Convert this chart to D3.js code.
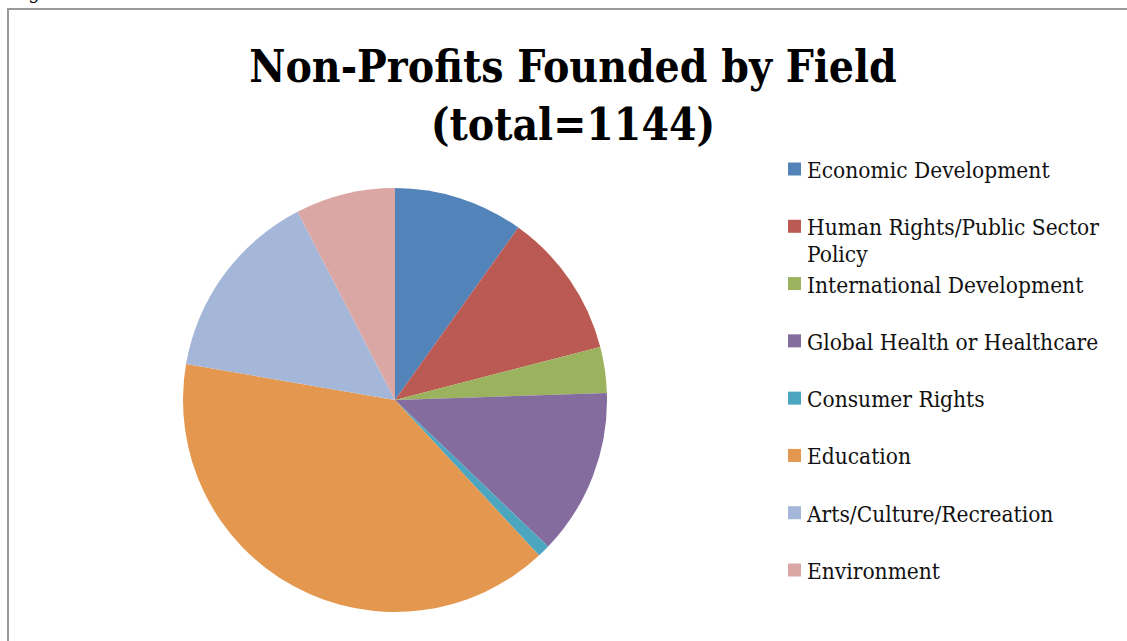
<!DOCTYPE html>
<html>
<head>
<meta charset="utf-8">
<script src="https://cdn.jsdelivr.net/npm/d3@7"></script>
<style>
  body { margin: 0; background: #fff; overflow: hidden; }
  svg { display: block; }
</style>
</head>
<body>
<svg id="chart" width="1127" height="641"></svg>
<script>
// categories and counts (sum = 1144)
const fields = [
  "Economic Development",
  "Human Rights/Public Sector Policy",
  "International Development",
  "Global Health or Healthcare",
  "Consumer Rights",
  "Education",
  "Arts/Culture/Recreation",
  "Environment"
];
const counts = [113, 127, 40, 145, 11, 453, 168, 87];
const sliceColors = ["#5283b9", "#ba5a53", "#9bb25e", "#856c9e", "#4da6bf", "#e4974e", "#a4b7d9", "#dba7a4"];
const titleLines = ["Non-Profits Founded by Field", "(total=1144)"];

const width = 1127, height = 641;
const svg = d3.select("#chart");
const serif = "'DejaVu Serif Condensed', 'DejaVu Serif', serif";

const data = fields.map((f, i) => ({ field: f, count: counts[i] }));

// caption above the frame, cut off by the top edge as in the source
svg.append("text")
  .attr("x", 10).attr("y", -1)
  .attr("font-family", serif)
  .attr("font-size", 20)
  .text("Figure");

// chart frame (runs off the right and bottom edges)
svg.append("rect")
  .attr("x", 8).attr("y", 9)
  .attr("width", width * 2).attr("height", height * 2)
  .attr("fill", "none")
  .attr("stroke", "#9a9a9a")
  .attr("stroke-width", 2);

// title
svg.append("g")
  .selectAll("text")
  .data(titleLines)
  .join("text")
  .attr("x", 573)
  .attr("y", (d, i) => 82 + i * 58)
  .attr("text-anchor", "middle")
  .attr("font-family", serif)
  .attr("font-weight", "bold")
  .attr("font-size", 44)
  .text(d => d);

// pie
const color = d3.scaleOrdinal().domain(fields).range(sliceColors);
const pie = d3.pie().sort(null).value(d => d.count);
const arc = d3.arc().innerRadius(0).outerRadius(212);

svg.append("g")
  .attr("transform", "translate(395,400)")
  .selectAll("path")
  .data(pie(data))
  .join("path")
  .attr("fill", d => color(d.data.field))
  .attr("d", arc);

// legend
const legendY = d3.scalePoint().domain(fields).range([169, 570]);
const legend = svg.append("g")
  .selectAll("g")
  .data(fields)
  .join("g")
  .attr("transform", d => `translate(788,${legendY(d)})`);

legend.append("rect")
  .attr("x", 0).attr("y", -6.5)
  .attr("width", 13).attr("height", 13)
  .attr("fill", d => color(d));

legend.append("text")
  .attr("x", 19).attr("y", 9)
  .attr("font-family", serif)
  .attr("font-size", 22.5)
  .attr("fill", "#111")
  .each(function(d) {
    // wrap long labels onto a second line
    const t = d3.select(this);
    const words = d.split(" ");
    let line = [];
    let tspan = t.append("tspan").attr("x", 19);
    words.forEach(w => {
      line.push(w);
      tspan.text(line.join(" "));
      if (tspan.node().getComputedTextLength() > 310 && line.length > 1) {
        line.pop();
        tspan.text(line.join(" "));
        line = [w];
        tspan = t.append("tspan").attr("x", 19).attr("dy", 27).text(w);
      }
    });
  });
</script>
</body>
</html>
